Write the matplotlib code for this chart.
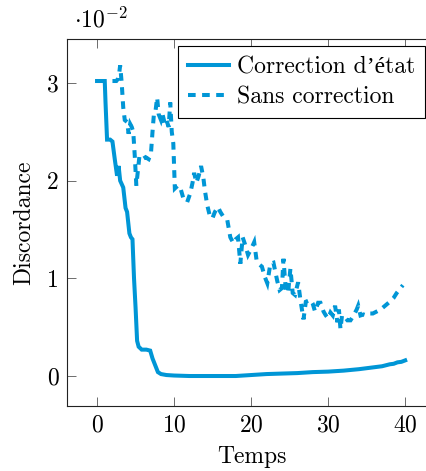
import numpy as np
import matplotlib
matplotlib.use("Agg")
import matplotlib.pyplot as plt
from matplotlib.ticker import FuncFormatter

plt.rcParams['font.family'] = ['cmr10', 'Liberation Serif']
plt.rcParams['mathtext.fontset'] = 'cm'
plt.rcParams['axes.formatter.use_mathtext'] = True

# discordance, in units of 1e-2
t_corr = [0.0, 0.5, 1.0, 1.1, 1.3, 1.7, 2.0, 2.3, 2.6, 2.8, 3.0, 3.4, 3.7, 3.9,
          4.2, 4.4, 4.6, 4.8, 5.0, 5.2, 5.4, 5.8, 6.4, 6.9, 7.2, 7.5, 7.9, 8.3,
          9.0, 10.0, 12.0, 15.0, 18.0, 20.0, 22.0, 24.0, 26.0, 28.0, 30.0, 32.0,
          34.0, 36.0, 37.0, 38.0, 38.5, 39.0, 39.5, 40.0]
d_corr = [3.02, 3.02, 3.02, 2.80, 2.42, 2.42, 2.40, 2.22, 2.05, 2.15, 2.00, 1.93,
          1.72, 1.68, 1.46, 1.42, 1.40, 1.00, 0.70, 0.36, 0.30, 0.27, 0.27, 0.26,
          0.18, 0.12, 0.04, 0.02, 0.01, 0.005, 0.0, 0.0, 0.0, 0.01, 0.02, 0.025,
          0.03, 0.04, 0.045, 0.055, 0.07, 0.09, 0.10, 0.12, 0.125, 0.14, 0.145, 0.16]

t_sans = [2.0, 2.5, 2.8, 3.0, 3.2, 3.4, 3.6, 3.9, 4.1, 4.3, 4.5, 4.7, 4.9, 5.1,
          5.3, 5.5, 5.9, 6.3, 6.7, 7.0, 7.2, 7.4, 7.6, 7.8, 8.0, 8.3, 8.5, 8.8,
          9.0, 9.3, 9.5, 9.7, 9.9, 10.0, 10.1, 10.5, 10.8, 11.2, 11.7, 12.1, 12.4,
          12.6, 12.9, 13.2, 13.5, 13.8, 14.0, 14.3, 14.7, 15.0, 15.3, 15.7, 16.0,
          16.4, 16.9, 17.3, 17.7, 18.0, 18.3, 18.6, 18.9, 19.2, 19.6, 20.0, 20.4,
          20.7, 21.1, 21.4, 21.8, 22.1, 22.5, 22.9, 23.4, 23.7, 24.0, 24.2, 24.5,
          24.8, 25.1, 25.4, 25.7, 26.1, 26.4, 26.8, 27.1, 27.7, 28.0, 28.3, 28.7,
          29.0, 29.4, 29.7, 30.0, 30.3, 30.6, 30.9, 31.2, 31.4, 31.6, 31.8, 32.0,
          32.5, 32.9, 33.3, 33.7, 33.9, 34.2, 34.6, 35.0, 35.4, 35.8, 36.3, 36.8,
          37.4, 38.0, 38.5, 38.9, 39.3, 39.7]
d_sans = [3.02, 3.02, 3.05, 3.18, 3.00, 2.75, 2.62, 2.60, 2.48, 2.58, 2.55, 2.50,
          2.25, 1.95, 2.10, 2.25, 2.22, 2.24, 2.22, 2.28, 2.50, 2.70, 2.72, 2.85,
          2.68, 2.62, 2.68, 2.58, 2.62, 2.55, 2.80, 2.50, 2.38, 2.15, 1.92, 1.95,
          1.93, 1.82, 1.78, 1.87, 1.98, 2.08, 1.98, 2.05, 2.15, 2.03, 1.90, 1.75,
          1.62, 1.62, 1.68, 1.73, 1.68, 1.63, 1.60, 1.42, 1.36, 1.40, 1.42, 1.15,
          1.42, 1.35, 1.24, 1.30, 1.37, 1.19, 1.14, 1.12, 1.01, 0.95, 1.15, 1.16,
          0.97, 0.88, 0.90, 1.20, 0.88, 0.85, 1.10, 0.85, 0.83, 0.96, 0.78, 0.58,
          0.76, 0.78, 0.74, 0.66, 0.75, 0.75, 0.66, 0.62, 0.59, 0.65, 0.62, 0.72,
          0.55, 0.68, 0.48, 0.62, 0.62, 0.57, 0.57, 0.62, 0.68, 0.72, 0.62, 0.63,
          0.62, 0.64, 0.64, 0.66, 0.68, 0.72, 0.76, 0.80, 0.85, 0.89, 0.93]

blue = '#0096D6'
fs = 17

fig = plt.figure(figsize=(4.27, 4.71), dpi=100)
ax = fig.add_axes([67 / 427, 1 - 406 / 471, (436 - 67) / 427, (406 - 39) / 471])

ax.plot(t_corr, np.array(d_corr) * 1e-2, color=blue, lw=2.9,
        solid_joinstyle='miter', label="Correction d’état")
ax.plot(t_sans, np.array(d_sans) * 1e-2, color=blue, lw=2.9,
        dashes=(1.9, 1.6), dash_joinstyle='miter', dash_capstyle='butt',
        label="Sans correction")

ax.set_xlim(-3.9, 44.0)
ax.set_ylim(-0.00307, 0.0345)
ax.set_xticks([0, 10, 20, 30, 40])
ax.set_yticks([0, 0.01, 0.02, 0.03])
ax.yaxis.set_major_formatter(FuncFormatter(lambda v, _: f"{v * 100:g}"))
ax.tick_params(direction='in', length=6.5, width=0.6, color='#555555',
               top=True, right=True, labelsize=fs, pad=6)
for s in ax.spines.values():
    s.set_linewidth(0.8)
    s.set_color('#222222')

ax.set_xlabel("Temps", fontsize=fs, labelpad=7)
ax.set_ylabel("Discordance", fontsize=fs, labelpad=8)
fig.text(74 / 427, 1 - 27 / 471, r"$\cdot 10^{-2}$", fontsize=fs)

leg = ax.legend(loc='upper left', bbox_to_anchor=(178 / 427, 1 - 46 / 471),
                bbox_transform=fig.transFigure, borderaxespad=0,
                fontsize=fs, frameon=True, fancybox=False,
                framealpha=1, edgecolor='black',
                handlelength=1.75, handletextpad=0.33, borderpad=0.42,
                labelspacing=0.35)
leg.get_frame().set_linewidth(0.8)

fig.savefig("out.png", dpi=100)
